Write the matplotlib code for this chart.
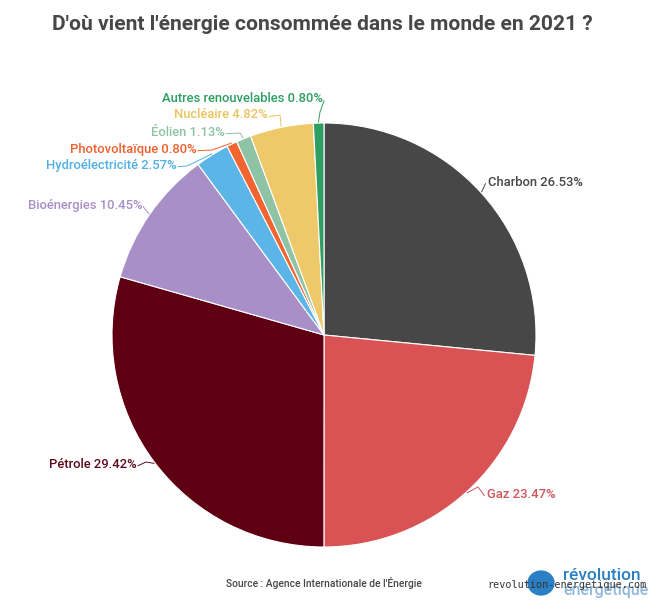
import numpy as np
import matplotlib
matplotlib.use("Agg")
import matplotlib.pyplot as plt
from matplotlib.patches import Circle

# data
sources = ["Charbon", "Gaz", "Pétrole", "Bioénergies", "Hydroélectricité",
           "Photovoltaïque", "Éolien", "Nucléaire", "Autres renouvelables"]
shares = [26.53, 23.47, 29.42, 10.45, 2.57, 0.80, 1.13, 4.82, 0.80]
colors = ["#474747", "#d95355", "#5e0011", "#a98fc7", "#5bb5e6",
          "#f26430", "#8fc3a6", "#eec96a", "#2e9e62"]
text_colors = ["#474747", "#d0545c", "#5e0a1e", "#a98fc7", "#4fb0e3",
               "#f0602e", "#8fc3a6", "#e8c35f", "#2e9e62"]

W, H = 653, 600
CX, CY, R = 324, 335, 212


def px(x, y):
    # pixel position -> data coordinates of the pie axes
    return (x - CX) / R, (CY - y) / R


# label placement (pixels): text anchor, alignment, elbow of the connector
label_pos = [(488, 182), (487, 494), (137, 464), (142, 205), (177, 165),
             (197, 149), (225, 132), (268, 115), (323, 99)]
label_ha = ["left", "left", "right", "right", "right", "right", "right", "right", "right"]
elbows = [None, (478, 487), (146, 462), None, (187, 166),
          (212, 150), (240, 133), (280, 115), (320, 112)]

plt.rcParams['font.family'] = ['Roboto', 'DejaVu Sans']
fig = plt.figure(figsize=(W / 100, H / 100), dpi=100)
ax = fig.add_axes([(CX - R) / W, (H - CY - R) / H, 2 * R / W, 2 * R / H])

wedges, _ = ax.pie(shares, colors=colors, startangle=90, counterclock=False,
                   radius=1, wedgeprops=dict(edgecolor="white", linewidth=0.8))
ax.set_xlim(-1, 1)
ax.set_ylim(-1, 1)
ax.axis("off")

start = 90.0
for i, (name, val) in enumerate(zip(sources, shares)):
    mid = np.deg2rad(start - val * 3.6 / 2)
    start -= val * 3.6
    edge = (np.cos(mid) * 1.005, np.sin(mid) * 1.005)
    tx, ty = px(*label_pos[i])
    off = 0.012 if label_ha[i] == "left" else -0.005
    pts = [(tx - off, ty - 0.008)]
    if elbows[i] is not None:
        pts.append(px(*elbows[i]))
    pts.append(edge)
    xs, ys = zip(*pts)
    ax.plot(xs, ys, color=text_colors[i], lw=0.7, clip_on=False)
    ax.text(tx, ty, f"{name} {val:.2f}%", ha=label_ha[i], va="center",
            fontsize=9.4, color=text_colors[i], fontweight="medium", clip_on=False)

fig.text(322 / W, 1 - 24 / H, "D'où vient l'énergie consommée dans le monde en 2021 ?",
         ha="center", va="center", fontsize=15.1, fontweight="bold", color="#474747")
fig.text(226 / W, 1 - 583 / H, "Source : Agence Internationale de l'Énergie",
         ha="left", va="center", fontsize=7.4, fontweight="medium", color="#474747")

# logo
fig.patches.append(Circle((541 / W, 1 - 583 / H), 13 / W, transform=fig.transFigure,
                          color="#2b7fc4", zorder=1))
fig.text(563 / W, 1 - 575 / H, "révolution", ha="left", va="center",
         fontsize=12.5, color="#2b7fc4", fontweight="medium")
fig.text(563 / W, 1 - 591 / H, "énergétique", ha="left", va="center",
         fontsize=11.5, color="#8fb8dc", fontweight="medium")
fig.text(487 / W, 1 - 585 / H, "revolution-energetique.com", ha="left", va="center",
         fontsize=7.3, color="#333333", family="DejaVu Sans Mono", zorder=5)

fig.savefig("out.png", dpi=100, facecolor="white")
